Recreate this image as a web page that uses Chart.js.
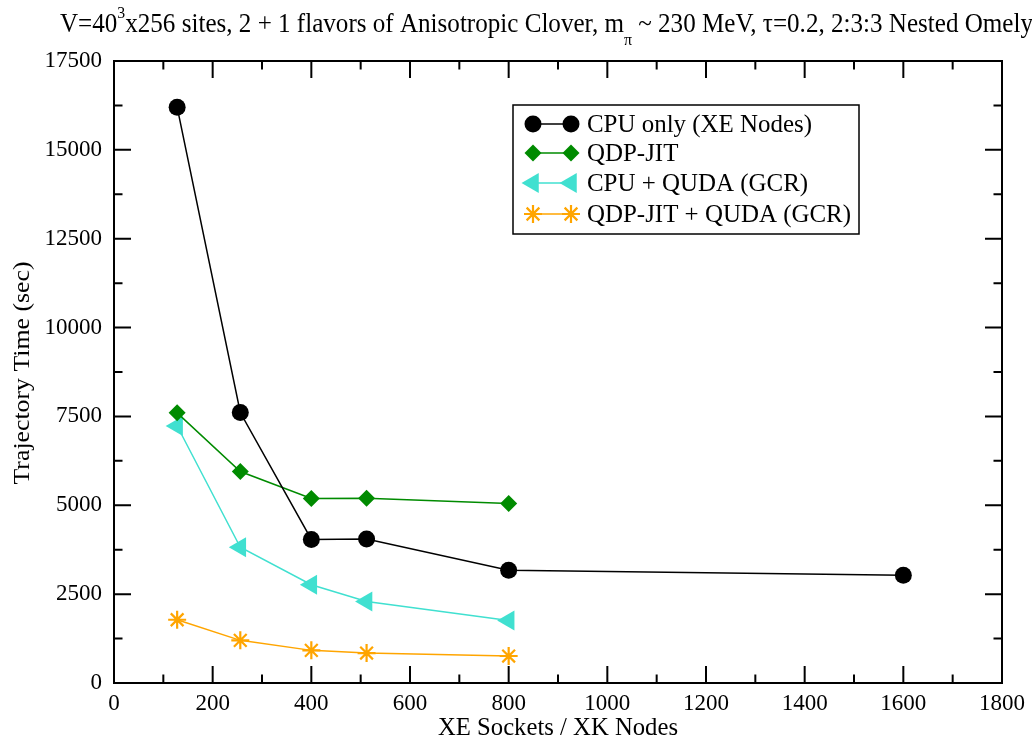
<!DOCTYPE html>
<html>
<head>
<meta charset="utf-8">
<script src="https://cdn.jsdelivr.net/npm/chart.js@4/dist/chart.umd.min.js"></script>
<style>
html,body{margin:0;padding:0;background:#fff;}
#c{display:block;}
</style>
</head>
<body>
<canvas id="c" width="1032" height="741" style="width:1032px;height:741px"></canvas>
<script>
// ---- data ----
const sockets = [128, 256, 400, 512, 800, 1600];
const cpuOnly = [16200, 7610, 4040, 4050, 3170, 3030];
const qdpJit = [7600, 5950, 5190, 5195, 5050];
const cpuQuda = [7230, 3820, 2765, 2295, 1760];
const qdpJitQuda = [1780, 1200, 918, 843, 759];
const seriesNames = ['CPU only (XE Nodes)', 'QDP-JIT', 'CPU + QUDA (GCR)', 'QDP-JIT + QUDA (GCR)'];
const seriesColors = ['#000000', '#008b00', '#40e0d0', '#ffa500'];
const xTicks = [0, 200, 400, 600, 800, 1000, 1200, 1400, 1600, 1800];
const yTicks = [0, 2500, 5000, 7500, 10000, 12500, 15000, 17500];

const FONT = '"Liberation Serif", "Times New Roman", serif';

function pts(vals) { return vals.map((v, i) => ({x: sockets[i], y: v})); }

function marker(ctx, kind, x, y, color) {
  ctx.save();
  ctx.fillStyle = color; ctx.strokeStyle = color;
  ctx.beginPath();
  if (kind === 'circle') {
    ctx.arc(x, y, 8.5, 0, Math.PI * 2); ctx.fill();
  } else if (kind === 'diamond') {
    const r = 8.5;
    ctx.moveTo(x - r, y); ctx.lineTo(x, y - r); ctx.lineTo(x + r, y); ctx.lineTo(x, y + r); ctx.closePath(); ctx.fill();
  } else if (kind === 'tri') {
    const r = 11.5;
    let a = -Math.PI / 2;
    for (let k = 0; k < 3; k++) {
      const px = x + Math.sin(a) * r, py = y - Math.cos(a) * r;
      if (k === 0) ctx.moveTo(px, py); else ctx.lineTo(px, py);
      a += 2 * Math.PI / 3;
    }
    ctx.closePath(); ctx.fill();
  } else if (kind === 'star') {
    const r = 9;
    ctx.lineWidth = 2.2;
    for (let k = 0; k < 4; k++) {
      const a = k * Math.PI / 4;
      ctx.moveTo(x - Math.cos(a) * r, y - Math.sin(a) * r);
      ctx.lineTo(x + Math.cos(a) * r, y + Math.sin(a) * r);
    }
    ctx.stroke();
  }
  ctx.restore();
}

function fitText(ctx, text, x, y, size, width, align) {
  ctx.save();
  ctx.font = size + 'px ' + FONT;
  const w = ctx.measureText(text).width;
  const s = width / w;
  ctx.translate(x, y);
  ctx.scale(s, 1);
  ctx.textAlign = align || 'left';
  ctx.textBaseline = 'alphabetic';
  ctx.fillStyle = '#000';
  ctx.fillText(text, 0, 0);
  ctx.restore();
}

const decor = {
  id: 'decor',
  afterDraw(chart) {
    const ctx = chart.ctx;
    const ca = chart.chartArea;
    const xs = chart.scales.x, ys = chart.scales.y;
    ctx.save();
    // frame
    ctx.strokeStyle = '#000';
    ctx.lineWidth = 2;
    ctx.strokeRect(ca.left, ca.top, ca.right - ca.left, ca.bottom - ca.top);
    // inward ticks on all sides
    ctx.beginPath();
    for (let v = 0; v <= 1800; v += 100) {
      const px = xs.getPixelForValue(v);
      const len = (v % 200 === 0) ? 17 : 8.5;
      ctx.moveTo(px, ca.bottom); ctx.lineTo(px, ca.bottom - len);
      ctx.moveTo(px, ca.top); ctx.lineTo(px, ca.top + len);
    }
    for (let v = 0; v <= 17500; v += 1250) {
      const py = ys.getPixelForValue(v);
      const len = (v % 2500 === 0) ? 17 : 8.5;
      ctx.moveTo(ca.left, py); ctx.lineTo(ca.left + len, py);
      ctx.moveTo(ca.right, py); ctx.lineTo(ca.right - len, py);
    }
    ctx.stroke();

    // title with super/subscripts
    const segs = [
      {t: 'V=40', size: 27, dy: 0},
      {t: '3', size: 17, dy: -14},
      {t: 'x256 sites, 2 + 1 flavors of Anisotropic Clover, m', size: 27, dy: 0},
      {t: 'π', size: 17, dy: 13},
      {t: ' ~ 230 MeV, τ=0.2, 2:3:3 Nested Omely', size: 27, dy: 0},
      {t: 'an', size: 27, dy: 0}
    ];
    let total = 0;
    for (let i = 0; i < segs.length - 1; i++) {
      ctx.font = segs[i].size + 'px ' + FONT;
      segs[i].w = ctx.measureText(segs[i].t).width;
      total += segs[i].w;
    }
    const sc = (1033 - 60) / total;
    ctx.save();
    ctx.translate(60, 32);
    ctx.scale(sc, 1);
    ctx.fillStyle = '#000';
    ctx.textBaseline = 'alphabetic';
    let cx = 0;
    for (const s of segs) {
      ctx.font = s.size + 'px ' + FONT;
      ctx.fillText(s.t, cx, s.dy);
      cx += ctx.measureText(s.t).width;
    }
    ctx.restore();

    // axis titles
    fitText(ctx, 'XE Sockets / XK Nodes', 558, 735, 25, 240, 'center');
    ctx.save();
    ctx.translate(29, 373);
    ctx.rotate(-Math.PI / 2);
    fitText(ctx, 'Trajectory Time (sec)', 0, 0, 24, 223, 'center');
    ctx.restore();

    // legend
    ctx.lineWidth = 1.5;
    ctx.strokeStyle = '#000';
    ctx.strokeRect(513, 105, 346, 129);
    const rows = [124, 153, 183, 214];
    const kinds = ['circle', 'diamond', 'tri', 'star'];
    ctx.font = '25px ' + FONT;
    const lscale = 225 / ctx.measureText(seriesNames[0]).width;
    for (let i = 0; i < 4; i++) {
      const y = rows[i];
      ctx.save();
      ctx.strokeStyle = seriesColors[i];
      ctx.lineWidth = 1.5;
      ctx.beginPath(); ctx.moveTo(533, y); ctx.lineTo(571, y); ctx.stroke();
      ctx.restore();
      marker(ctx, kinds[i], 533, y, seriesColors[i]);
      marker(ctx, kinds[i], 571, y, seriesColors[i]);
      ctx.save();
      ctx.font = '25px ' + FONT;
      ctx.translate(587, y + 8);
      ctx.scale(lscale, 1);
      ctx.fillStyle = '#000';
      ctx.textBaseline = 'alphabetic';
      ctx.fillText(seriesNames[i], 0, 0);
      ctx.restore();
    }
    ctx.restore();
  }
};

const ds = (label, vals, color, style, radius, rot, bw) => ({
  label, data: pts(vals), showLine: true,
  borderColor: color, backgroundColor: color, borderWidth: 1.5,
  pointStyle: style, pointRadius: radius, pointRotation: rot || 0,
  pointBorderWidth: bw || 0, pointBorderColor: color, pointBackgroundColor: color,
  pointHoverRadius: radius, tension: 0, clip: false
});

new Chart(document.getElementById('c'), {
  type: 'scatter',
  data: {
    datasets: [
      ds(seriesNames[0], cpuOnly, seriesColors[0], 'circle', 8.5),
      ds(seriesNames[1], qdpJit, seriesColors[1], 'rectRot', 8.5),
      ds(seriesNames[2], cpuQuda, seriesColors[2], 'triangle', 11.5, -90),
      ds(seriesNames[3], qdpJitQuda, seriesColors[3], 'star', 9, 0, 2.2)
    ]
  },
  options: {
    responsive: false,
    animation: false,
    devicePixelRatio: 1,
    layout: {padding: {left: 0, right: 29, top: 61, bottom: 0}},
    plugins: {legend: {display: false}, title: {display: false}, tooltip: {enabled: false}},
    scales: {
      x: {
        type: 'linear', min: 0, max: 1800,
        afterFit(s) { s.height = 58; },
        afterBuildTicks(s) { s.ticks = xTicks.map(v => ({value: v})); },
        grid: {display: false, drawTicks: false}, border: {display: false},
        ticks: {color: '#000', font: {family: FONT, size: 23}, padding: 7, maxRotation: 0, autoSkip: false,
                callback: v => String(v)}
      },
      y: {
        type: 'linear', min: 0, max: 17500,
        afterFit(s) { s.width = 114; },
        afterBuildTicks(s) { s.ticks = yTicks.map(v => ({value: v})); },
        grid: {display: false, drawTicks: false}, border: {display: false},
        ticks: {color: '#000', font: {family: FONT, size: 23}, padding: 12, autoSkip: false,
                callback: v => String(v)}
      }
    }
  },
  plugins: [decor]
});
</script>
</body>
</html>
